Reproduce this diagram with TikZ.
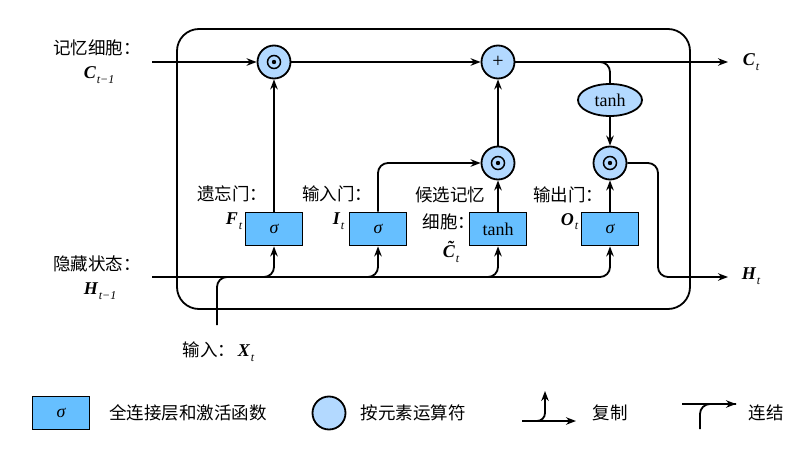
\documentclass[tikz,border=0pt]{standalone}
\usepackage{fontspec}
\setmainfont{Noto Sans CJK SC}
\newfontfamily\tms{Liberation Serif}
\usetikzlibrary{arrows.meta,shapes.geometric,calc}
\definecolor{boxblue}{RGB}{102,191,255}
\definecolor{opblue}{RGB}{179,217,255}
\newcommand\vlab[2]{{\fontsize{18}{18}\selectfont\tms\bfseries\itshape #1}\kern1pt\raisebox{-5pt}{\fontsize{12}{12}\selectfont\tms\itshape #2}}
\begin{document}
\begin{tikzpicture}[x=1pt,y=-1pt,line width=1.8pt,
  >={Stealth[length=10pt,width=7.5pt]},
  fc/.style={draw,fill=boxblue,minimum width=57pt,minimum height=33pt,inner sep=0pt,font=\fontsize{18}{18}\selectfont\tms},
  op/.style={circle,draw,fill=opblue,minimum size=33pt,inner sep=0pt,font=\fontsize{20}{20}\selectfont\tms},
  lab/.style={font=\fontsize{17.5}{20}\selectfont,inner sep=0pt},
  vl/.style={inner sep=0pt,anchor=base west},
  conn/.style={->,rounded corners=10pt},
  wire/.style={rounded corners=10pt}]
\useasboundingbox (0,0) rectangle (807,452);
% frame
\draw[rounded corners=22pt] (177,29) rectangle (690,309);
% nodes
\node[op] (fmul) at (274,62) {};
\node[op] (plus) at (498,62) {+};
\node[op] (imul) at (498,163) {};
\node[op] (omul) at (610,163) {};
\foreach \n in {fmul,imul,omul}{
  \draw[line width=1.5pt] (\n) circle (6.5pt);
  \fill (\n) circle (2.2pt);
}
\node[ellipse,draw,fill=opblue,minimum width=64pt,minimum height=32pt,inner sep=0pt,font=\fontsize{18}{18}\selectfont\tms] (tanhe) at (610,100) {tanh};
\node[fc] (fg) at (274,229) {\itshape σ};
\node[fc] (ig) at (378,229) {\itshape σ};
\node[fc] (cg) at (498,229) {tanh};
\node[fc] (og) at (610,229) {\itshape σ};
% coordinates
\coordinate (cin) at (152,62);
\coordinate (cout) at (728,62);
\coordinate (hin) at (152,277);
\coordinate (hout) at (728,277);
\coordinate (hturn) at (658,277);
\coordinate (xin) at (217,325);
\coordinate (hmid) at (255,277);
% cell line
\draw[->] (cin) -- (fmul.west);
\draw[->] (fmul.east) -- (plus.west);
\draw[->] (plus.east) -- (cout);
\draw[wire] (plus.east) -| (tanhe.north);
\draw[->] (tanhe.south) -- (omul.north);
\draw[wire,->] (omul.east) -| (hturn) -- (hout);
% gates up
\draw[->] (fg.north) -- (fmul.south);
\draw[conn] (ig.north) |- (imul.west);
\draw[->] (cg.north) -- (imul.south);
\draw[->] (imul.north) -- (plus.south);
\draw[->] (og.north) -- (omul.south);
% hidden / input
\draw[conn] (hin) -| (fg.south);
\draw[conn] (hin) -| (ig.south);
\draw[conn] (hin) -| (cg.south);
\draw[conn] (hin) -| (og.south);
\draw[wire] (xin) |- (hmid);
% labels
\node[lab] (l1) at (97,48) {记忆细胞：};
\node[vl] (l2) at (83,79) {\vlab{C}{t−1}};
\node[lab] (l3) at (97,264) {隐藏状态：};
\node[vl] (l4) at (83,294) {\vlab{H}{t−1}};
\node[lab] (l5) at (232,194) {遗忘门：};
\node[vl] (l6) at (225,224) {\vlab{F}{t}};
\node[lab] (l7) at (337,194) {输入门：};
\node[vl] (l8) at (332,224) {\vlab{I}{t}};
\node[lab] (l9) at (450,195) {候选记忆};
\node[lab] (l10) at (449,222) {细胞：};
\node[vl] (l11) at (442,257) {\vlab{\~{C}}{t}};
\node[lab] (l12) at (568,195) {输出门：};
\node[vl] (l13) at (560,225) {\vlab{O}{t}};
\node[lab] (l14) at (209,350) {输入：};
\node[vl] (l15) at (237,356) {\vlab{X}{t}};
\node[vl] (l16) at (742,66) {\vlab{C}{t}};
\node[vl] (l17) at (741,279) {\vlab{H}{t}};
% legend
\node[fc] (lg1) at (61,413) {\itshape σ};
\node[lab] (lt1) at (188,413) {全连接层和激活函数};
\node[op] (lg2) at (329,413) {};
\node[lab] (lt2) at (413,413) {按元素运算符};
\coordinate (cpa) at (522,421);
\coordinate (cpb) at (576,421);
\coordinate (cpc) at (545,391);
\draw[->] (cpa) -- (cpb);
\draw[->,rounded corners=8pt] (cpa) -| (cpc);
\node[lab] (lt3) at (610,413) {复制};
\coordinate (cta) at (682,404);
\coordinate (ctb) at (736,404);
\coordinate (ctc) at (700,429);
\draw[->] (cta) -- (ctb);
\draw[rounded corners=10pt] (ctc) |- (ctb);
\node[lab] (lt4) at (766,413) {连结};
\end{tikzpicture}
\end{document}
